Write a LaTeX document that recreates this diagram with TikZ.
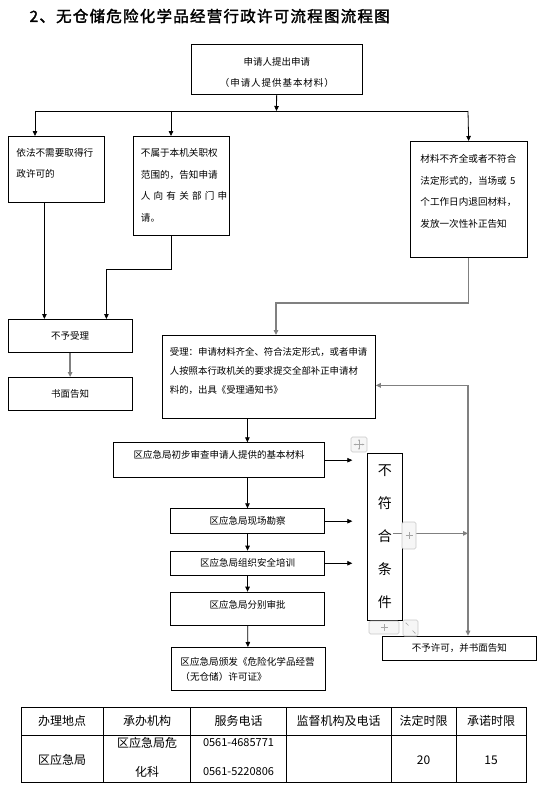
\documentclass[tikz,border=0pt]{standalone}
\usepackage{fontspec}
\setmainfont{Noto Sans CJK SC}
\newfontfamily\titlefont[FakeBold=2,LetterSpace=8]{Noto Sans CJK SC}
\newfontfamily\widefont[LetterSpace=10]{Noto Sans CJK SC}
\usetikzlibrary{arrows.meta,positioning}
\definecolor{linegray}{RGB}{128,128,128}
\definecolor{handleline}{RGB}{200,200,200}
\definecolor{handlefill}{RGB}{246,246,246}

\tikzset{
  box/.style={draw,line width=0.8pt,anchor=north west,inner sep=0pt,
    font=\fontsize{9.5}{21}\selectfont},
  topbox/.style={box,text height=8pt},
  flow/.style={->,line width=0.8pt},
  grayflow/.style={->,draw=linegray,line width=1.6pt},
  cell/.style={font=\fontsize{12}{29}\selectfont,align=center},
  handle/.style={draw=handleline,fill=handlefill,rounded corners=1.5pt,line width=0.6pt},
}

\begin{document}
\begin{tikzpicture}[x=1pt,y=-1pt,>={Triangle[length=5pt,width=4.5pt]}]
  \useasboundingbox (0,0) rectangle (554,789);

  \node[anchor=west,font=\titlefont\fontsize{15.5}{18}\selectfont] (title) at (26,16)
    {2、无仓储危险化学品经营行政许可流程图流程图};

  % boxes
  \node[topbox,align=center,text width=171pt,inner ysep=13.5pt,text depth=15pt] (apply) at (191,44)
    {申请人提出申请\\{\widefont（申请人提供基本材料）}};
  \node[topbox,align=left,inner xsep=8pt,inner ysep=12.5pt,text width=79.5pt,text depth=33pt,
        font=\fontsize{9.6}{21}\selectfont] (nolaw) at (8,136)
    {依法不需要取得行\\政许可的};
  \node[topbox,align=left,inner xsep=8pt,inner ysep=12.5pt,text width=80pt,text depth=66pt,
        font=\fontsize{9.6}{21.5}\selectfont] (outside) at (132.5,136)
    {不属于本机关职权\\范围的，告知申请\\\makebox[77pt][s]{人 向 有 关 部 门 申}\\请。};
  \node[topbox,align=left,inner xsep=10pt,inner ysep=13.5pt,text width=96.5pt,text depth=81pt,
        font=\fontsize{9.6}{21.5}\selectfont] (incomplete) at (410,141)
    {材料不齐全或者不符合\\法定形式的，当场或 5\\个工作日内退回材料，\\发放一次性补正告知};
  \node[box,minimum width=124.5pt,minimum height=33pt] (reject) at (7.5,319) {不予受理};
  \node[box,minimum width=124.5pt,minimum height=33pt] (notice) at (7.5,377) {书面告知};
  \node[topbox,align=left,inner xsep=7.5pt,inner ysep=12.5pt,text width=198pt,text depth=50pt,
        font=\fontsize{9.4}{19}\selectfont] (accept) at (162,335)
    {受理：申请材料齐全、符合法定形式，或者申请\\人按照本行政机关的要求提交全部补正申请材\\料的，出具《受理通知书》};
  \node[topbox,align=center,text width=211pt,inner ysep=7.5pt,text depth=12pt] (prelim) at (113.3,442.3)
    {区应急局初步审查申请人提供的基本材料};
  \node[box,minimum width=154.3pt,minimum height=25pt] (onsite) at (170,508.3) {区应急局现场勘察};
  \node[box,minimum width=154.3pt,minimum height=24.3pt] (training) at (170,550.7) {区应急局组织安全培训};
  \node[topbox,align=center,text width=154.3pt,inner ysep=8pt,text depth=9.3pt] (approve) at (170,591.7)
    {区应急局分别审批};
  \node[topbox,align=left,inner xsep=9.3pt,inner ysep=10.3pt,text width=135.4pt,text depth=14.4pt,
        font=\fontsize{9.6}{15}\selectfont] (issue) at (170.7,647)
    {区应急局颁发《危险化学品经营\\（无仓储）许可证》};
  \node[box,minimum width=35pt,minimum height=167pt,align=center,
        font=\fontsize{14}{33}\selectfont] (fail) at (367,453) {不\\符\\合\\条\\件};
  \node[box,minimum width=153.4pt,minimum height=24.3pt] (deny) at (382.3,635.7) {不予许可，并书面告知};

  % connectors
  \coordinate (split) at (276.5,111);
  \coordinate (bl) at (35,111);
  \coordinate (bm) at (171,111);
  \coordinate (br) at (468,111);
  \draw[flow] (apply) -- (split);
  \draw[line width=0.8pt] (bl) -- (br);
  \draw[flow] (bl) -- (bl |- nolaw.north);
  \draw[flow] (bm) -- (bm |- outside.north);
  \draw[flow] (br) -- (incomplete.north);
  \draw[flow] ([xshift=-11.75pt]nolaw.south) -- ([xshift=-25.75pt]reject.north);
  \draw[flow] ([xshift=-9.8pt]outside.south) -- ++(0,34) -| ([xshift=36.25pt]reject.north);
  \draw[grayflow] (reject) -- (notice);
  \draw[grayflow] (incomplete.south) -- ++(0,45) -| ([xshift=7.1pt]accept.north);
  \coordinate (accin) at ([yshift=-8.5pt]accept.east);
  \draw[grayflow] (accin -| br) -- (accin);
  \draw[grayflow] (accin -| br) -- (br |- deny.north);
  \draw[flow] ([xshift=-21.5pt]accept.south) -- ([xshift=28.2pt]prelim.north);
  \draw[flow] ([xshift=28.2pt]prelim.south) -- (onsite);
  \draw[flow] (onsite) -- (training);
  \draw[flow] (training) -- (approve);
  \draw[flow] (approve) -- (issue);
  \foreach \n in {prelim,onsite,training}
    \draw[flow,shorten >=14.7pt] (\n.east) -- (\n.east -| fail.west);
  \coordinate (failout) at ([xshift=-10pt,yshift=3.5pt]fail.east);
  \draw[grayflow] (failout) -- (failout -| br);

  % editor handles
  \draw[handle] (351,437) rectangle (367,452);
  \draw[gray!70,line width=0.5pt,{Stealth[length=2pt]}-{Stealth[length=2pt]}] (353.5,444.5) -- (364.5,444.5);
  \draw[gray!70,line width=0.5pt,{Stealth[length=2pt]}-{Stealth[length=2pt]}] (359,439) -- (359,450);
  \draw[handle] (402,522) rectangle (416,549);
  \draw[gray!70,line width=0.5pt] (405.5,535.5) -- (412.5,535.5) (409,532) -- (409,539);
  \draw[handle] (369,621) rectangle (399,634);
  \draw[gray!70,line width=0.5pt] (380.5,627.5) -- (387.5,627.5) (384,624) -- (384,631);
  \draw[handle] (403,620) rectangle (418,636);
  \draw[gray!70,line width=0.4pt,-{Stealth[length=1.5pt]}] (408.5,625.5) -- (405.5,622.5);
  \draw[gray!70,line width=0.4pt,-{Stealth[length=1.5pt]}] (412.5,630.5) -- (415.5,633.5);

  % table
  \draw[line width=0.8pt] (21,707) rectangle (526.5,782);
  \draw[line width=0.8pt] (21,735) -- (526.5,735);
  \foreach \x in {103.5,190.8,286,391,456}
    \draw[line width=0.8pt] (\x,707) -- (\x,782);
  \foreach \x/\t [count=\i] in {62/办理地点,147/承办机构,238.5/服务电话,338.5/监督机构及电话,423.5/法定时限,491/承诺时限}
    \node[cell] (head\i) at (\x,721) {\t};
  \node[cell] (place) at (62,760) {区应急局};
  \node[cell] (agency) at (147,757.5) {区应急局危\\化科};
  \node[cell,font=\fontsize{11}{29}\selectfont] (phone) at (238.5,757.5) {0561-4685771\\0561-5220806};
  \node[cell] (legal) at (423.5,760) {20};
  \node[cell] (promise) at (491,760) {15};
\end{tikzpicture}
\end{document}
